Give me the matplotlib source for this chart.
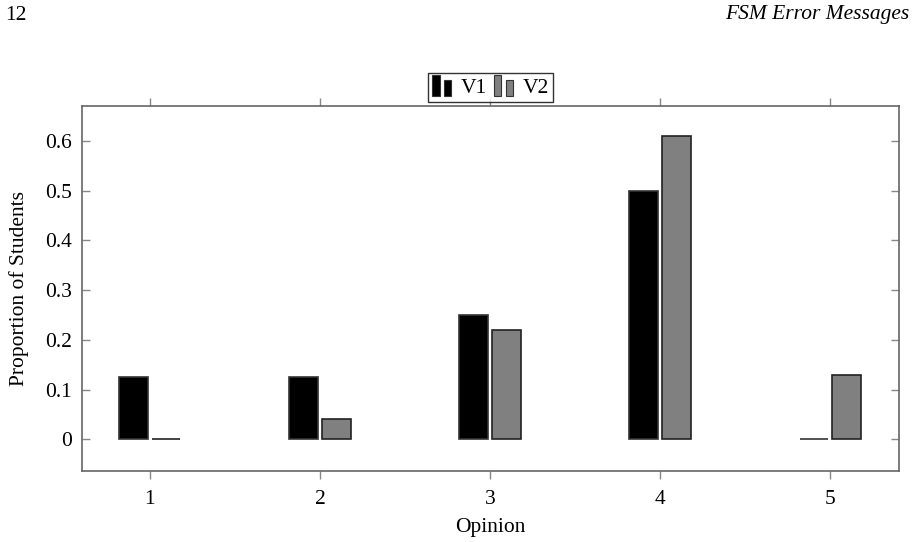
import matplotlib.pyplot as plt
import numpy as np
from matplotlib.patches import Rectangle
from matplotlib.legend_handler import HandlerBase

plt.rcParams['font.family'] = ['Liberation Serif', 'DejaVu Serif']

opinions = [1, 2, 3, 4, 5]
v1 = [0.125, 0.125, 0.25, 0.5, 0.0]
v2 = [0.0, 0.04, 0.22, 0.61, 0.13]
series_labels = ['V1', 'V2']
colors = ['black', '#808080']


# legend icon: two little bars like pgfplots ybar legend
class BarIconHandler(HandlerBase):
    def create_artists(self, legend, orig_handle, xdescent, ydescent,
                       width, height, fontsize, trans):
        fc = orig_handle.get_facecolor()
        bw = width * 0.32
        r1 = Rectangle((-xdescent, -ydescent - 0.15 * height), bw, height * 1.3,
                       facecolor=fc, edgecolor='#333333', lw=0.8, transform=trans)
        r2 = Rectangle((-xdescent + width * 0.5, -ydescent - 0.15 * height), bw, height * 1.0,
                       facecolor=fc, edgecolor='#333333', lw=0.8, transform=trans)
        return [r1, r2]


fig = plt.figure(figsize=(9.18, 5.42), dpi=100)
ax = fig.add_axes([82 / 918, 1 - 471 / 542, 817 / 918, 365.3 / 542])

x = np.array(opinions)
width = 0.17
ax.bar(x - 0.095, v1, width, color=colors[0], edgecolor='#333333', linewidth=1.2)
ax.bar(x + 0.095, v2, width, color=colors[1], edgecolor='#222222', linewidth=1.2)

ax.set_xlim(0.601, 5.405)
ax.set_ylim(-0.0638, 0.671)
ax.set_xticks(opinions)
ax.set_yticks([0, 0.1, 0.2, 0.3, 0.4, 0.5, 0.6])
ax.set_yticklabels(['0', '0.1', '0.2', '0.3', '0.4', '0.5', '0.6'])
ax.tick_params(top=True, right=True, color='#888888', labelsize=15.5, width=1)
ax.tick_params(axis='x', direction='out', length=5.5, pad=8)
ax.tick_params(axis='y', direction='in', length=5.5, pad=7)
for s in ax.spines.values():
    s.set_color('#666666')
    s.set_linewidth(1.2)

ax.set_xlabel('Opinion', fontsize=15.5, labelpad=7)
ax.set_ylabel('Proportion of Students', fontsize=15.5, labelpad=12)

h1 = Rectangle((0, 0), 1, 1, facecolor=colors[0])
h2 = Rectangle((0, 0), 1, 1, facecolor=colors[1])
leg = ax.legend([h1, h2], series_labels, loc='center', bbox_to_anchor=(0.5, 1.049),
                ncol=2, fontsize=15.5, frameon=True, fancybox=False, edgecolor='black',
                handlelength=1.1, handleheight=0.8, handletextpad=0.25, columnspacing=0.3,
                borderpad=0.2, borderaxespad=0,
                handler_map={Rectangle: BarIconHandler()})
leg.get_frame().set_linewidth(1.0)

fig.text(5 / 918, 1 - 15 / 542, '12', fontsize=15.5, va='center', ha='left')
fig.text(909 / 918, 1 - 15 / 542, 'FSM Error Messages', fontsize=15.5, va='center',
         ha='right', style='italic')

fig.savefig('out.png', dpi=100)
